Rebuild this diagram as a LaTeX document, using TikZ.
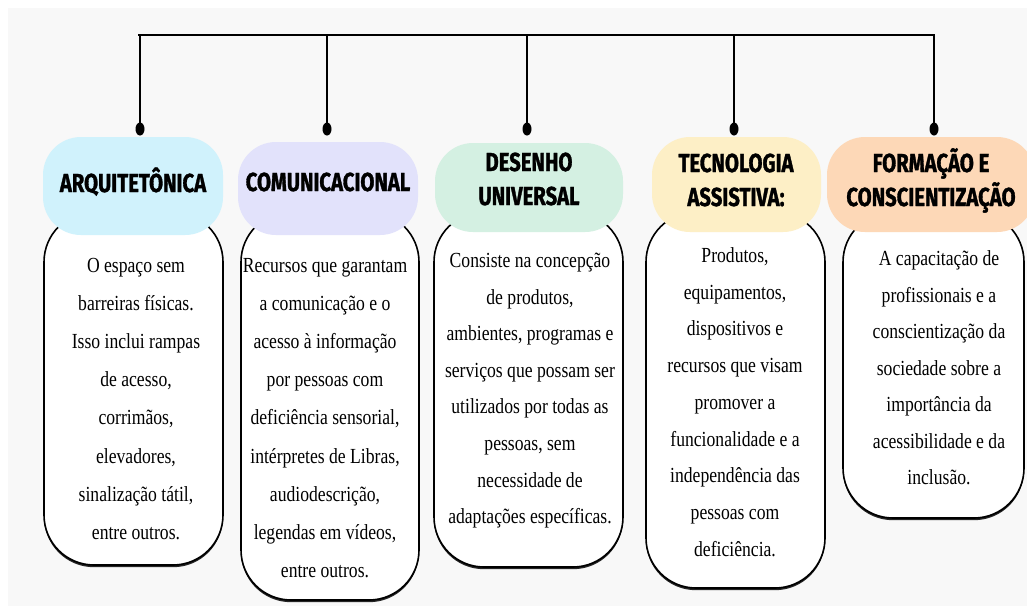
\documentclass[tikz,border=0pt]{standalone}
\usepackage{fontspec}
\setmainfont{Liberation Serif}
\newfontfamily\bodyfont[FakeStretch=0.82]{Liberation Serif}
\newfontfamily\headfont[FakeStretch=0.78,FakeBold=1.2]{Fira Sans}
\usetikzlibrary{shadows}
\definecolor{bgc}{HTML}{F8F8F8}
\definecolor{hcyan}{HTML}{D0F2FC}
\definecolor{hlav}{HTML}{E2E2FB}
\definecolor{hmint}{HTML}{D4F0E2}
\definecolor{hcream}{HTML}{FDEFC6}
\definecolor{hpeach}{HTML}{FDD8B7}
\begin{document}
\begin{tikzpicture}[x=1pt,y=-1pt,
  bodybox/.style={draw=black, line width=1.6pt, fill=white, rounded corners=50pt, inner sep=0pt,
    drop shadow={shadow xshift=0pt, shadow yshift=-2.2pt, fill=black, opacity=0.85}},
  headbox/.style={rounded corners=38pt, inner sep=0pt},
  headtxt/.style={font=\headfont\bfseries\fontsize{26}{34}\selectfont, align=center, inner sep=0pt, anchor=base},
  bodytxt/.style={font=\bodyfont\fontsize{21.5}{#1}\selectfont, align=center, inner sep=0pt, anchor=base},
  wire/.style={line width=2.2pt, black},
  dotmark/.style={fill=black}
]
\useasboundingbox (0,0) rectangle (1027,606);
\begin{scope}
\clip (0,0) rectangle (1027,606);
\fill[white] (0,0) rectangle (1027,606);
\fill[bgc] (8,8) rectangle (1027,606);

% connectors
\coordinate (c1) at (140,35);
\coordinate (c2) at (327,35);
\coordinate (c3) at (527,35);
\coordinate (c4) at (734,35);
\coordinate (c5) at (934,35);
\coordinate (d1) at (140,129);
\coordinate (d2) at (327,129);
\coordinate (d3) at (527,129);
\coordinate (d4) at (734,129);
\coordinate (d5) at (934,129);
\draw[wire] ([xshift=-2pt]c1) -- ([xshift=1pt]c5);
\foreach \i in {1,...,5}{
  \draw[wire] (c\i) -- (d\i);
  \fill[dotmark] (d\i) ellipse [x radius=4.5pt, y radius=6.5pt];
}

% bodies
\node[bodybox, minimum width=179pt, minimum height=353pt] (b1) at (133.5,388.5) {};
\node[bodybox, minimum width=178pt, minimum height=388pt] (b2) at (330,406) {};
\node[bodybox, minimum width=189pt, minimum height=355pt] (b3) at (528.5,389.5) {};
\node[bodybox, minimum width=179pt, minimum height=376pt] (b4) at (735.5,400) {};
\node[bodybox, minimum width=181pt, minimum height=306pt] (b5) at (933.5,365) {};

% headers
\node[headbox, fill=hcyan, minimum width=180pt, minimum height=98pt] (h1) at (133,186) {};
\node[headbox, fill=hlav, minimum width=180pt, minimum height=93pt] (h2) at (328,188.5) {};
\node[headbox, fill=hmint, minimum width=188pt, minimum height=89pt] (h3) at (529,187.5) {};
\node[headbox, fill=hcream, minimum width=169pt, minimum height=95pt] (h4) at (736.5,184.5) {};
\node[headbox, fill=hpeach, minimum width=208pt, minimum height=95pt] (h5) at (931,184.5) {};

\node[headtxt] (ht1) at (133,192) {ARQUITETÔNICA};
\node[headtxt] (ht2) at (328,191) {COMUNICACIONAL};
\node[headtxt] (ht3) at (529,205) {DESENHO\\UNIVERSAL};
\node[headtxt] (ht4) at (736,206) {TECNOLOGIA\\ASSISTIVA:};
\node[headtxt] (ht5) at (931,206) {FORMAÇÃO E\\CONSCIENTIZAÇÃO};

% body texts (anchor = baseline of last line)
\node[bodytxt=38.1] (bt1) at (136,539.2) {O espaço sem\\barreiras físicas.\\Isso inclui rampas\\de acesso,\\corrimãos,\\elevadores,\\sinalização tátil,\\entre outros.};
\node[bodytxt=38.1] (bt2) at (325,577.3) {Recursos que garantam\\a comunicação e o\\acesso à informação\\por pessoas com\\deficiência sensorial,\\intérpretes de Libras,\\audiodescrição,\\legendas em vídeos,\\entre outros.};
\node[bodytxt=36.6] (bt3) at (530,523.7) {Consiste na concepção\\de produtos,\\ambientes, programas e\\serviços que possam ser\\utilizados por todas as\\pessoas, sem\\necessidade de\\adaptações específicas.};
\node[bodytxt=36.7] (bt4) at (735,556.1) {Produtos,\\equipamentos,\\dispositivos e\\recursos que visam\\promover a\\funcionalidade e a\\independência das\\pessoas com\\deficiência.};
\node[bodytxt=36.5] (bt5) at (939,484.5) {A capacitação de\\profissionais e a\\conscientização da\\sociedade sobre a\\importância da\\acessibilidade e da\\inclusão.};
\end{scope}
\end{tikzpicture}
\end{document}
